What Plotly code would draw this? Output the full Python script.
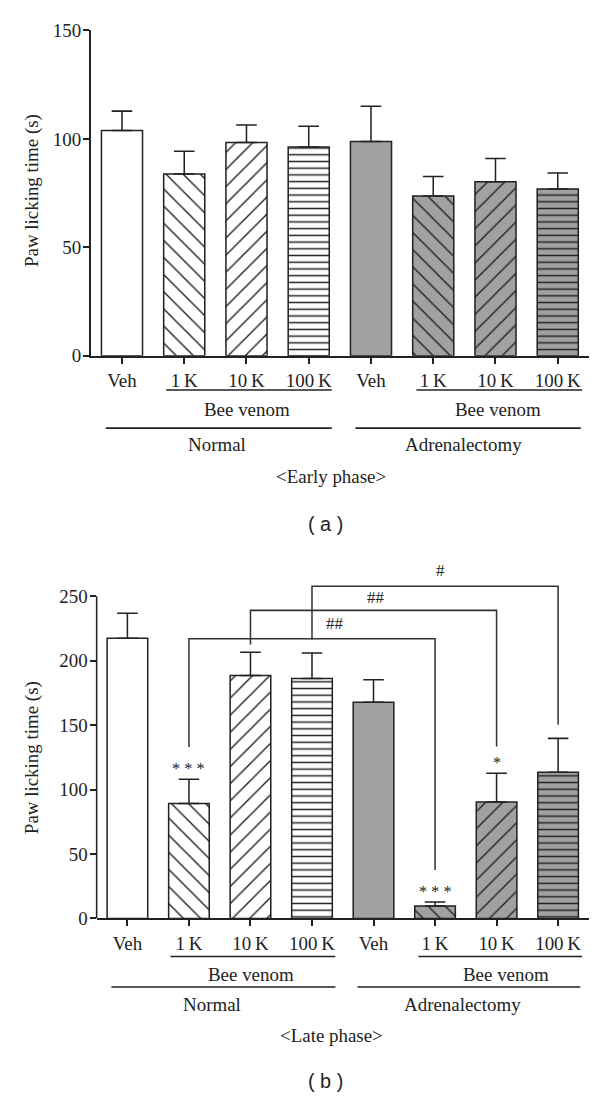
import plotly.graph_objects as go

W, H = 600, 1100

# ---------------- data ----------------
cat_index = [0, 1, 2, 3, 4, 5, 6, 7]
tick_labels = ["Veh", "1\u2009K", "10\u2009K", "100\u2009K", "Veh", "1\u2009K", "10\u2009K", "100\u2009K"]

early_mean = [103.9, 83.8, 98.3, 96.3, 98.8, 73.6, 80.2, 76.9]
early_err = [8.9, 10.5, 8.1, 9.5, 16.2, 9.0, 10.7, 7.4]

late_mean = [217.3, 89.2, 188.5, 186.1, 167.8, 9.7, 90.4, 113.4]
late_err = [19.4, 18.8, 18.0, 19.9, 17.3, 3.1, 22.2, 26.3]

bar_fill = ["#ffffff", "#ffffff", "#ffffff", "#ffffff", "#a1a1a4", "#a1a1a4", "#a1a1a4", "#a1a1a4"]
bar_hatch = ["", "\\", "/", "-", "", "\\", "/", "-"]

late_sig = ["", "* * *", "", "", "", "* * *", "*", ""]

bracket_from = [1, 2, 3]
bracket_to = [5, 6, 7]
bracket_top = [217.0, 239.0, 257.7]
bracket_from_low = [133.0, 212.5, 216.4]
bracket_to_low = [37.5, 133.3, 150.3]
bracket_label = ["##", "##", "#"]
bracket_label_x = [3.36, 4.04, 5.09]
bracket_label_y = [228.8, 249.0, 270.0]

early_ticks = [0, 50, 100, 150]
late_ticks = [0, 50, 100, 150, 200, 250]

y_title = "Paw licking time (s)"
sub_group = "Bee venom"
main_groups = ["Normal", "Adrenalectomy"]
phase_labels = ["<Early phase>", "<Late phase>"]
panel_labels = ["( a )", "( b )"]

# ---------------- style / page mapping ----------------
SERIF = "Liberation Serif"
SANS = "Liberation Sans"
INK = "#222222"
K = 0.9825          # page-to-photo scale compensation
OX, OY = 8.6, 17.5  # page offset compensation
FS = 18.6 / K
LW = 1.5 / K


def fx(px):
    return (px - OX) / K / W


def fy(py):
    return 1 - (py - OY) / K / H


fig = go.Figure()


def add_bars(means, errs, xa, ya):
    for i in range(len(means)):
        shape = bar_hatch[i]
        if shape == "-":
            size, sol = 6.6 / K, 0.22
        elif shape:
            size, sol = 11.9 / K, 0.115
        else:
            size, sol = 8, 0.2
        fig.add_trace(go.Bar(
            x=[cat_index[i]], y=[means[i]], xaxis=xa, yaxis=ya, width=0.66,
            marker=dict(
                color=bar_fill[i],
                line=dict(color=INK, width=LW),
                pattern=dict(shape=shape, fgcolor=INK, size=size, solidity=sol,
                             fillmode="overlay", fgopacity=1),
            ),
            error_y=dict(type="data", array=[errs[i]], arrayminus=[0], symmetric=False,
                         color=INK, thickness=LW, width=10.3),
            showlegend=False, hoverinfo="skip",
        ))


add_bars(early_mean, early_err, "x", "y")
add_bars(late_mean, late_err, "x2", "y2")

axis_common = dict(showgrid=False, zeroline=False, linecolor=INK, linewidth=LW,
                   ticks="outside", ticklen=6.1, tickwidth=LW, tickcolor=INK,
                   tickfont=dict(family=SERIF, size=FS, color=INK))

fig.update_layout(
    width=W, height=H, margin=dict(l=0, r=0, t=0, b=0),
    paper_bgcolor="white", plot_bgcolor="white",
    barmode="overlay",
    xaxis=dict(domain=[fx(90), fx(579.3)], range=[-0.5, 7.5], anchor="y",
               tickvals=cat_index, ticktext=tick_labels, showline=True,
               ticklabelstandoff=1, **axis_common),
    yaxis=dict(domain=[fy(355.7), fy(30)], range=[0, 150], anchor="x",
               tickvals=early_ticks, showline=True, ticklabelstandoff=-2, **axis_common),
    xaxis2=dict(domain=[fx(95.7), fx(579.3)], range=[-0.5, 7.5], anchor="y2",
                tickvals=cat_index, ticktext=tick_labels, showline=True,
                ticklabelstandoff=1, **axis_common),
    yaxis2=dict(domain=[fy(919.4), fy(557.9)], range=[0, 280], anchor="x2",
                tickvals=late_ticks, showline=False, ticklabelstandoff=-2, **axis_common),
)

shapes = []
annos = []

# bottom y axis line only up to 250
shapes.append(dict(type="line", xref="x2 domain", yref="y2", x0=0, x1=0, y0=0, y1=late_ticks[-1],
                   line=dict(color=INK, width=LW)))


def group_block(xref, y_sub, y_main, y_sub_txt, y_main_txt, sub_spans, main_spans,
                sub_centers, main_centers, phase_txt, phase_y, panel_txt, panel_y):
    for (a, b) in sub_spans:
        shapes.append(dict(type="line", xref=xref, yref="paper", x0=a, x1=b, y0=fy(y_sub), y1=fy(y_sub),
                           line=dict(color=INK, width=LW)))
    for (a, b) in main_spans:
        shapes.append(dict(type="line", xref=xref, yref="paper", x0=a, x1=b, y0=fy(y_main), y1=fy(y_main),
                           line=dict(color=INK, width=LW)))
    for c in sub_centers:
        annos.append(dict(xref=xref, yref="paper", x=c, y=fy(y_sub_txt), text=sub_group, showarrow=False,
                          xanchor="center", yanchor="middle", font=dict(family=SERIF, size=FS, color=INK)))
    for c, t in zip(main_centers, main_groups):
        annos.append(dict(xref=xref, yref="paper", x=c, y=fy(y_main_txt), text=t, showarrow=False,
                          xanchor="center", yanchor="middle", font=dict(family=SERIF, size=FS, color=INK)))
    annos.append(dict(xref="paper", yref="paper", x=fx(326), y=fy(phase_y),
                      text=phase_txt.replace("<", "&lt;").replace(">", "&gt;"),
                      showarrow=False, xanchor="center", yanchor="middle",
                      font=dict(family=SERIF, size=FS, color=INK)))
    annos.append(dict(xref="paper", yref="paper", x=fx(321), y=fy(panel_y), text=panel_txt,
                      showarrow=False, xanchor="center", yanchor="middle",
                      font=dict(family=SANS, size=19.5 / K, color=INK)))


group_block("x", 390, 428.3, 410, 445,
            [(0.71, 3.37), (4.73, 7.39)], [(-0.26, 3.37), (3.75, 7.37)],
            [2.01, 6.04], [1.52, 5.49], phase_labels[0], 477, panel_labels[0], 524)
group_block("x2", 957.5, 988, 975.7, 1006,
            [(0.70, 3.38), (4.73, 7.39)], [(-0.26, 3.38), (3.74, 7.36)],
            [2.01, 6.16], [1.38, 5.45], phase_labels[1], 1036.7, panel_labels[1], 1082)

# y axis titles
annos.append(dict(xref="paper", yref="paper", x=fx(32), y=fy(190), text=y_title, textangle=-90,
                  showarrow=False, xanchor="center", yanchor="middle",
                  font=dict(family=SERIF, size=FS, color=INK)))
annos.append(dict(xref="paper", yref="y2", x=fx(32), y=late_ticks[-1] / 2, text=y_title, textangle=-90,
                  showarrow=False, xanchor="center", yanchor="middle",
                  font=dict(family=SERIF, size=FS, color=INK)))

# significance stars
for i, s in enumerate(late_sig):
    if s:
        annos.append(dict(xref="x2", yref="y2", x=cat_index[i], y=late_mean[i] + late_err[i], text=s,
                          showarrow=False, xanchor="center", yanchor="bottom", yshift=-1,
                          font=dict(family=SERIF, size=16 / K, color=INK)))

# brackets
for a, b, top, la, lb, lab, lx, ly in zip(bracket_from, bracket_to, bracket_top, bracket_from_low,
                                          bracket_to_low, bracket_label, bracket_label_x, bracket_label_y):
    shapes.append(dict(type="path", xref="x2", yref="y2",
                       path=f"M {a},{la} L {a},{top} L {b},{top} L {b},{lb}",
                       line=dict(color="#333333", width=LW)))
    annos.append(dict(xref="x2", yref="y2", x=lx, y=ly, text=lab, showarrow=False,
                      xanchor="center", yanchor="middle", font=dict(family=SERIF, size=16.5 / K, color=INK)))

fig.update_layout(shapes=shapes, annotations=annos)
fig.write_html("out.html")
